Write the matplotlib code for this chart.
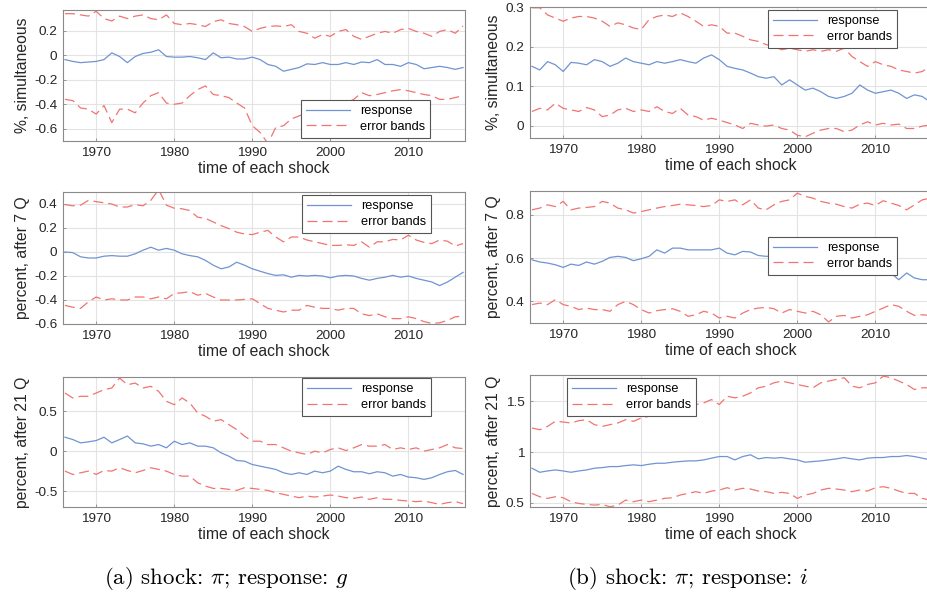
import matplotlib
matplotlib.use("Agg")
import matplotlib.pyplot as plt

years = list(range(1966, 2018))

# (a) shock pi, response g
a_sim_resp = [-0.035, -0.05, -0.06, -0.055, -0.05, -0.035, 0.02, -0.01, -0.06, -0.01,
              0.015, 0.025, 0.045, -0.01, -0.015, -0.015, -0.01, -0.02, -0.035, 0.02,
              -0.02, -0.015, -0.03, -0.03, -0.015, -0.035, -0.075, -0.09, -0.13, -0.115,
              -0.10, -0.07, -0.075, -0.06, -0.075, -0.075, -0.06, -0.075, -0.055, -0.06,
              -0.035, -0.075, -0.075, -0.09, -0.06, -0.075, -0.11, -0.10, -0.09, -0.10,
              -0.115, -0.10]
a_sim_up = [0.34, 0.34, 0.33, 0.32, 0.36, 0.30, 0.28, 0.32, 0.30, 0.32,
            0.33, 0.30, 0.29, 0.33, 0.26, 0.25, 0.26, 0.25, 0.235, 0.275,
            0.29, 0.26, 0.25, 0.235, 0.195, 0.22, 0.235, 0.24, 0.235, 0.25,
            0.195, 0.18, 0.14, 0.17, 0.155, 0.195, 0.21, 0.155, 0.13, 0.155,
            0.18, 0.195, 0.18, 0.21, 0.22, 0.195, 0.18, 0.155, 0.195, 0.21,
            0.18, 0.24]
a_sim_lo = [-0.36, -0.37, -0.43, -0.44, -0.48, -0.41, -0.55, -0.44, -0.44, -0.47,
            -0.39, -0.33, -0.305, -0.39, -0.40, -0.39, -0.33, -0.28, -0.25, -0.32,
            -0.33, -0.345, -0.39, -0.43, -0.575, -0.63, -0.72, -0.59, -0.575, -0.52,
            -0.495, -0.47, -0.44, -0.43, -0.41, -0.40, -0.39, -0.36, -0.305, -0.33,
            -0.32, -0.305, -0.29, -0.28, -0.29, -0.305, -0.32, -0.33, -0.36, -0.36,
            -0.345, -0.33]

a_7q_resp = [0.0, -0.005, -0.04, -0.05, -0.05, -0.035, -0.03, -0.035, -0.035, -0.015,
             0.015, 0.04, 0.015, 0.03, 0.015, -0.015, -0.03, -0.04, -0.07, -0.11,
             -0.14, -0.125, -0.085, -0.11, -0.14, -0.16, -0.18, -0.195, -0.19, -0.21,
             -0.195, -0.20, -0.195, -0.20, -0.215, -0.20, -0.195, -0.20, -0.22, -0.235,
             -0.22, -0.21, -0.195, -0.21, -0.20, -0.22, -0.235, -0.25, -0.28, -0.25,
             -0.21, -0.17]
a_7q_up = [0.395, 0.385, 0.39, 0.43, 0.42, 0.41, 0.40, 0.375, 0.375, 0.395,
           0.385, 0.43, 0.52, 0.39, 0.365, 0.36, 0.345, 0.29, 0.28, 0.25,
           0.22, 0.195, 0.165, 0.15, 0.145, 0.165, 0.18, 0.125, 0.085, 0.125,
           0.125, 0.10, 0.085, 0.07, 0.055, 0.055, 0.06, 0.055, 0.085, 0.04,
           0.085, 0.085, 0.105, 0.10, 0.14, 0.10, 0.08, 0.07, 0.10, 0.09,
           0.05, 0.07]
a_7q_lo = [-0.445, -0.46, -0.47, -0.415, -0.375, -0.40, -0.39, -0.40, -0.40, -0.375,
           -0.375, -0.39, -0.375, -0.39, -0.345, -0.34, -0.33, -0.36, -0.345, -0.375,
           -0.40, -0.40, -0.40, -0.395, -0.39, -0.43, -0.47, -0.485, -0.50, -0.485,
           -0.485, -0.445, -0.46, -0.47, -0.47, -0.485, -0.47, -0.47, -0.515, -0.53,
           -0.515, -0.54, -0.555, -0.555, -0.54, -0.555, -0.58, -0.595, -0.59, -0.57,
           -0.54, -0.535]

a_21q_resp = [0.175, 0.146, 0.104, 0.117, 0.133, 0.175, 0.104, 0.146, 0.19, 0.104,
              0.092, 0.063, 0.083, 0.042, 0.125, 0.083, 0.104, 0.063, 0.063, 0.042,
              -0.021, -0.063, -0.117, -0.125, -0.167, -0.188, -0.208, -0.229, -0.271, -0.292,
              -0.271, -0.292, -0.25, -0.271, -0.25, -0.188, -0.229, -0.258, -0.258, -0.283,
              -0.258, -0.271, -0.313, -0.292, -0.325, -0.333, -0.354, -0.333, -0.292, -0.258,
              -0.242, -0.292]
a_21q_up = [0.729, 0.667, 0.688, 0.688, 0.729, 0.771, 0.792, 0.917, 0.833, 0.854,
            0.792, 0.813, 0.75, 0.625, 0.583, 0.667, 0.604, 0.479, 0.438, 0.375,
            0.396, 0.333, 0.271, 0.188, 0.125, 0.125, 0.083, 0.083, 0.042, 0.0,
            -0.021, -0.042, 0.0, -0.021, 0.021, 0.042, 0.008, 0.042, 0.083, 0.063,
            0.063, 0.083, 0.021, 0.042, 0.021, 0.042, 0.0, 0.021, 0.042, 0.083,
            0.042, 0.033]
a_21q_lo = [-0.25, -0.292, -0.271, -0.25, -0.292, -0.242, -0.25, -0.208, -0.242, -0.271,
            -0.242, -0.208, -0.229, -0.25, -0.292, -0.313, -0.313, -0.396, -0.438, -0.467,
            -0.467, -0.479, -0.492, -0.458, -0.467, -0.479, -0.492, -0.521, -0.542, -0.563,
            -0.583, -0.563, -0.575, -0.563, -0.55, -0.563, -0.583, -0.592, -0.575, -0.604,
            -0.583, -0.604, -0.604, -0.617, -0.625, -0.633, -0.625, -0.646, -0.667, -0.646,
            -0.633, -0.658]

# (b) shock pi, response i
b_sim_resp = [0.15, 0.141, 0.162, 0.154, 0.137, 0.16, 0.158, 0.154, 0.167, 0.162,
              0.15, 0.158, 0.171, 0.162, 0.158, 0.154, 0.162, 0.158, 0.162, 0.167,
              0.162, 0.158, 0.171, 0.179, 0.167, 0.15, 0.145, 0.141, 0.133, 0.124,
              0.12, 0.124, 0.103, 0.116, 0.103, 0.09, 0.095, 0.086, 0.074, 0.069,
              0.074, 0.082, 0.103, 0.09, 0.082, 0.086, 0.09, 0.082, 0.069, 0.078,
              0.074, 0.06]
b_sim_up = [0.298, 0.298, 0.28, 0.272, 0.264, 0.272, 0.276, 0.276, 0.272, 0.264,
            0.251, 0.26, 0.255, 0.247, 0.243, 0.268, 0.276, 0.28, 0.276, 0.285,
            0.276, 0.264, 0.251, 0.255, 0.251, 0.234, 0.234, 0.226, 0.217, 0.213,
            0.205, 0.20, 0.192, 0.196, 0.192, 0.188, 0.192, 0.188, 0.192, 0.188,
            0.196, 0.175, 0.162, 0.15, 0.162, 0.154, 0.15, 0.141, 0.137, 0.133,
            0.137, 0.15]
b_sim_lo = [0.036, 0.044, 0.04, 0.057, 0.044, 0.04, 0.036, 0.046, 0.04, 0.023,
            0.027, 0.04, 0.044, 0.036, 0.04, 0.036, 0.048, 0.036, 0.031, 0.044,
            0.027, 0.023, 0.014, 0.019, 0.014, 0.008, 0.002, -0.007, 0.006, 0.002,
            -0.001, 0.002, -0.007, -0.011, -0.024, -0.028, -0.019, -0.011, -0.007, -0.007,
            -0.015, -0.011, 0.002, 0.01, 0.002, 0.006, 0.002, 0.004, -0.007, -0.007,
            -0.001, 0.002]

b_7q_resp = [0.592, 0.582, 0.577, 0.569, 0.557, 0.572, 0.566, 0.582, 0.572, 0.585,
             0.603, 0.608, 0.603, 0.588, 0.597, 0.608, 0.638, 0.623, 0.646, 0.646,
             0.638, 0.638, 0.638, 0.638, 0.646, 0.623, 0.615, 0.631, 0.628, 0.612,
             0.608, 0.61, 0.605, 0.60, 0.595, 0.59, 0.585, 0.58, 0.575, 0.57,
             0.565, 0.56, 0.555, 0.55, 0.545, 0.54, 0.53, 0.50, 0.531, 0.508,
             0.50, 0.50]
b_7q_up = [0.823, 0.831, 0.846, 0.838, 0.862, 0.823, 0.831, 0.834, 0.838, 0.862,
           0.854, 0.831, 0.823, 0.808, 0.815, 0.823, 0.831, 0.838, 0.843, 0.849,
           0.846, 0.843, 0.838, 0.843, 0.869, 0.862, 0.869, 0.846, 0.869, 0.831,
           0.823, 0.846, 0.862, 0.869, 0.90, 0.885, 0.877, 0.862, 0.854, 0.849,
           0.838, 0.831, 0.849, 0.854, 0.843, 0.865, 0.854, 0.843, 0.823, 0.846,
           0.869, 0.877]
b_7q_lo = [0.385, 0.392, 0.385, 0.408, 0.385, 0.377, 0.362, 0.369, 0.362, 0.362,
           0.354, 0.385, 0.40, 0.385, 0.362, 0.346, 0.357, 0.362, 0.366, 0.354,
           0.331, 0.338, 0.354, 0.346, 0.323, 0.331, 0.323, 0.346, 0.362, 0.369,
           0.372, 0.366, 0.346, 0.362, 0.354, 0.346, 0.354, 0.338, 0.305, 0.331,
           0.335, 0.323, 0.331, 0.338, 0.354, 0.369, 0.385, 0.377, 0.354, 0.335,
           0.338, 0.335]

b_21q_resp = [0.842, 0.802, 0.815, 0.825, 0.815, 0.802, 0.815, 0.825, 0.842, 0.848,
              0.858, 0.858, 0.868, 0.875, 0.868, 0.881, 0.891, 0.891, 0.901, 0.908,
              0.914, 0.914, 0.924, 0.941, 0.957, 0.957, 0.924, 0.957, 0.974, 0.934,
              0.947, 0.941, 0.947, 0.934, 0.924, 0.901, 0.908, 0.914, 0.924, 0.934,
              0.947, 0.934, 0.924, 0.941, 0.947, 0.947, 0.957, 0.957, 0.967, 0.957,
              0.941, 0.924]
b_21q_up = [1.238, 1.221, 1.254, 1.304, 1.297, 1.287, 1.31, 1.32, 1.271, 1.254,
            1.271, 1.287, 1.32, 1.304, 1.337, 1.353, 1.37, 1.386, 1.403, 1.42,
            1.436, 1.469, 1.485, 1.518, 1.469, 1.551, 1.535, 1.551, 1.584, 1.634,
            1.65, 1.683, 1.70, 1.683, 1.667, 1.65, 1.634, 1.683, 1.70, 1.716,
            1.733, 1.65, 1.634, 1.667, 1.683, 1.749, 1.733, 1.70, 1.667, 1.617,
            1.634, 1.634]
b_21q_lo = [0.594, 0.561, 0.545, 0.561, 0.551, 0.512, 0.495, 0.485, 0.479, 0.485,
            0.462, 0.479, 0.528, 0.512, 0.528, 0.512, 0.528, 0.545, 0.551, 0.578,
            0.594, 0.611, 0.594, 0.617, 0.627, 0.65, 0.627, 0.644, 0.637, 0.617,
            0.611, 0.594, 0.604, 0.594, 0.545, 0.578, 0.594, 0.627, 0.644, 0.637,
            0.627, 0.611, 0.627, 0.617, 0.65, 0.66, 0.644, 0.617, 0.594, 0.594,
            0.545, 0.528]

x_ticks = [1970, 1980, 1990, 2000, 2010]
ylabels = ["%, simultaneous", "percent, after 7 Q", "percent, after 21 Q"]
captions = [r"(a) shock: $\pi$; response: $g$", r"(b) shock: $\pi$; response: $i$"]

panels = [
    # (column, row, response, upper, lower, ylim, yticks, [axes px: left, top, bottom], legend anchor)
    (0, 0, a_sim_resp, a_sim_up, a_sim_lo, (-0.7, 0.37), [-0.6, -0.4, -0.2, 0, 0.2], (63, 10, 141), (0.592, 0.313)),
    (0, 1, a_7q_resp, a_7q_up, a_7q_lo, (-0.6, 0.5), [-0.6, -0.4, -0.2, 0, 0.2, 0.4], (63, 192, 324), (0.595, 0.977)),
    (0, 2, a_21q_resp, a_21q_up, a_21q_lo, (-0.7, 0.93), [-0.5, 0, 0.5], (63, 377, 507), (0.595, 0.992)),
    (1, 0, b_sim_resp, b_sim_up, b_sim_lo, (-0.031, 0.3), [0, 0.1, 0.2, 0.3], (530, 7, 138), (0.592, 0.977)),
    (1, 1, b_7q_resp, b_7q_up, b_7q_lo, (0.3, 0.91), [0.4, 0.6, 0.8], (530, 191, 323), (0.592, 0.652)),
    (1, 2, b_21q_resp, b_21q_up, b_21q_lo, (0.46, 1.76), [0.5, 1, 1.5], (530, 375, 507), (0.092, 0.977)),
]

W, H = 927, 599
plt.rcParams["font.family"] = ["Liberation Sans", "DejaVu Sans"]
plt.rcParams["axes.unicode_minus"] = False
plt.rcParams["mathtext.fontset"] = "cm"

blue = "#7094d2"
red = "#f07472"
frame = "#8a8a8a"

fig = plt.figure(figsize=(W / 100, H / 100), dpi=100)

for col, row, resp, up, lo, ylim, yticks, (left, top, bottom), anchor in panels:
    ax = fig.add_axes([left / W, 1 - bottom / H, 402 / W, (bottom - top) / H])
    ax.plot(years, resp, color=blue, lw=0.9, label="response")
    ax.plot(years, up, color=red, lw=0.9, dashes=(8, 4), label="error bands")
    ax.plot(years, lo, color=red, lw=0.9, dashes=(8, 4))
    ax.set_xlim(1965.75, 2017.25)
    ax.set_ylim(*ylim)
    ax.set_xticks(x_ticks)
    ax.set_yticks(yticks)
    ax.set_yticklabels([f"{v:g}" for v in yticks])
    ax.grid(True, color="#e3e3e3", lw=0.8)
    ax.set_axisbelow(True)
    ax.tick_params(direction="in", length=2.5, width=0.6, color=frame,
                   labelsize=9.7, labelcolor="#262626", pad=4)
    for sp in ax.spines.values():
        sp.set_color(frame)
        sp.set_linewidth(0.8)
    ax.set_xlabel("time of each shock", fontsize=11.3, color="#262626", labelpad=2)
    ax.set_ylabel(ylabels[row], fontsize=11.3, color="#262626", labelpad=3)
    handles, labels = ax.get_legend_handles_labels()
    leg = ax.legend(handles, labels, loc="upper left", bbox_to_anchor=anchor,
                    borderaxespad=0, fontsize=9.2, handlelength=3.4, handletextpad=0.8,
                    borderpad=0.4, labelspacing=0.3, fancybox=False, framealpha=1,
                    edgecolor="#555555")
    leg.get_frame().set_linewidth(0.8)

fig.text(226 / W, 1 - 578 / H, captions[0], ha="center", va="center",
         fontsize=16.5, family="cmr10")
fig.text(688 / W, 1 - 578 / H, captions[1], ha="center", va="center",
         fontsize=16.5, family="cmr10")

fig.savefig("out.png", dpi=100)
